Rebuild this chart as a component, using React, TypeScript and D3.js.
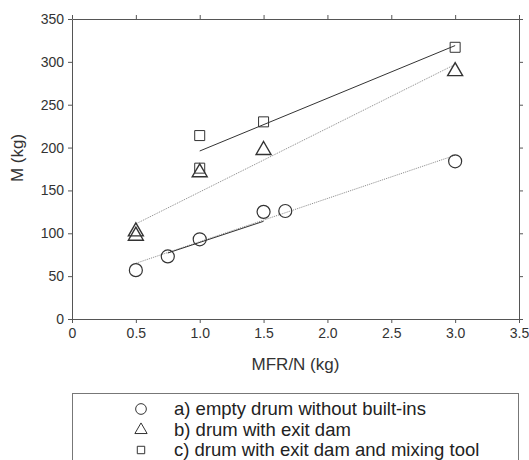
import { useEffect, useRef } from 'react'
import * as d3 from 'd3'

const W = 529
const H = 460
const MARGIN = { top: 19, right: 10, bottom: 141, left: 72 }

// series a) empty drum without built-ins
const aX = [0.5, 0.75, 1.0, 1.5, 1.67, 3.0]
const aY = [57, 73, 93, 125, 126, 184]
// series b) drum with exit dam
const bX = [0.5, 0.5, 1.0, 1.5, 3.0]
const bY = [97, 102, 171, 197, 289]
// series c) drum with exit dam and mixing tool
const cX = [1.0, 1.0, 1.5, 3.0]
const cY = [214, 176, 230, 317]

// fitted lines (end points)
const fitAX = [0.5, 3.0]
const fitAY = [65, 191]
const fitA2X = [0.75, 1.5]
const fitA2Y = [77, 114]
const fitBX = [0.5, 3.0]
const fitBY = [111, 297]
const fitCX = [1.0, 3.0]
const fitCY = [196, 319]

const xTicks = [0, 0.5, 1.0, 1.5, 2.0, 2.5, 3.0, 3.5]
const yTicks = [0, 50, 100, 150, 200, 250, 300, 350]

const legendLabels = [
  'a) empty drum without built-ins',
  'b) drum with exit dam',
  'c) drum with exit dam and mixing tool',
]

const FONT = 'Liberation Sans, Arial, sans-serif'

export default function App() {
  const svgRef = useRef<SVGSVGElement>(null)

  useEffect(() => {
    if (!svgRef.current) return
    const svg = d3.select(svgRef.current)
    svg.selectAll('*').remove()

    const iW = W - MARGIN.left - MARGIN.right
    const iH = H - MARGIN.top - MARGIN.bottom

    const x = d3.scaleLinear().domain([0, 3.5]).range([0, iW])
    const y = d3.scaleLinear().domain([0, 350]).range([iH, 0])

    const root = svg.append('g').attr('transform', `translate(${MARGIN.left},${MARGIN.top})`)

    const styleAxis = (g: any) => {
      g.select('.domain').attr('stroke', '#555')
      g.selectAll('.tick line').attr('stroke', '#555')
      g.selectAll('.tick text').attr('fill', '#333').attr('font-size', '14px').attr('font-family', FONT)
    }

    const fmtX = (d: any) => (d === 0 ? '0' : d3.format('.1f')(d))

    // Axes
    root.append('g')
      .attr('transform', `translate(0,${iH})`)
      .call(d3.axisBottom(x).tickValues(xTicks).tickSize(4).tickSizeOuter(0).tickPadding(5).tickFormat(fmtX))
      .call(styleAxis)

    root.append('g')
      .call(d3.axisTop(x).tickValues(xTicks).tickSize(4).tickSizeOuter(0).tickFormat(() => ''))
      .call(styleAxis)

    root.append('g')
      .call(d3.axisLeft(y).tickValues(yTicks).tickSize(4).tickSizeOuter(0).tickPadding(4))
      .call(styleAxis)

    root.append('g')
      .attr('transform', `translate(${iW},0)`)
      .call(d3.axisRight(y).tickValues(yTicks).tickSize(4).tickSizeOuter(0).tickFormat(() => ''))
      .call(styleAxis)

    // Axis titles
    svg.append('text')
      .attr('x', MARGIN.left + iW / 2)
      .attr('y', 370)
      .attr('text-anchor', 'middle')
      .attr('font-size', '17px')
      .attr('font-family', FONT)
      .attr('fill', '#333')
      .text('MFR/N (kg)')

    svg.append('text')
      .attr('transform', 'rotate(-90)')
      .attr('x', -158)
      .attr('y', 23)
      .attr('text-anchor', 'middle')
      .attr('font-size', '17px')
      .attr('font-family', FONT)
      .attr('fill', '#333')
      .text('M (kg)')

    // Fit lines
    const line = d3.line<number>()
    const drawFit = (xs: number[], ys: number[], dotted: boolean) => {
      root.append('path')
        .attr('d', line.x((_, i) => x(xs[i])).y((_, i) => y(ys[i]))(xs))
        .attr('fill', 'none')
        .attr('stroke', dotted ? '#888' : '#333')
        .attr('stroke-width', 1)
        .attr('stroke-dasharray', dotted ? '1,1' : null)
    }
    drawFit(fitAX, fitAY, true)
    drawFit(fitA2X, fitA2Y, false)
    drawFit(fitBX, fitBY, true)
    drawFit(fitCX, fitCY, false)

    // Markers
    const drawPts = (xs: number[], ys: number[], type: any, size: number, sw: number) => {
      root.append('g').selectAll('path')
        .data(xs)
        .join('path')
        .attr('transform', (d, i) => `translate(${x(d)},${y(ys[i])})`)
        .attr('d', d3.symbol().type(type).size(size)())
        .attr('fill', 'none')
        .attr('stroke', '#333')
        .attr('stroke-width', sw)
    }
    drawPts(cX, cY, d3.symbolSquare, 100, 1)
    drawPts(bX, bY, d3.symbolTriangle, 97, 1.4)
    drawPts(aX, aY, d3.symbolCircle, 133, 1.2)

    // Legend
    svg.append('rect')
      .attr('x', 72.5)
      .attr('y', 393.5)
      .attr('width', 446)
      .attr('height', 80)
      .attr('fill', 'none')
      .attr('stroke', '#777')

    const legTypes = [d3.symbolCircle, d3.symbolTriangle, d3.symbolSquare]
    const legSizes = [90, 65, 55]
    const rowY = [409, 430, 450]
    legendLabels.forEach((lab, i) => {
      svg.append('path')
        .attr('transform', `translate(141,${rowY[i]})`)
        .attr('d', d3.symbol().type(legTypes[i]).size(legSizes[i])())
        .attr('fill', 'none')
        .attr('stroke', '#333')
        .attr('stroke-width', 1)
      svg.append('text')
        .attr('x', 174)
        .attr('y', rowY[i] + 6)
        .attr('font-size', '18.5px')
        .attr('font-family', FONT)
        .attr('fill', '#222')
        .text(lab)
    })
  }, [])

  return (
    <svg
      ref={svgRef}
      width={W}
      height={H}
      style={{ position: 'absolute', left: 0, top: 0, background: '#fff' }}
    />
  )
}
